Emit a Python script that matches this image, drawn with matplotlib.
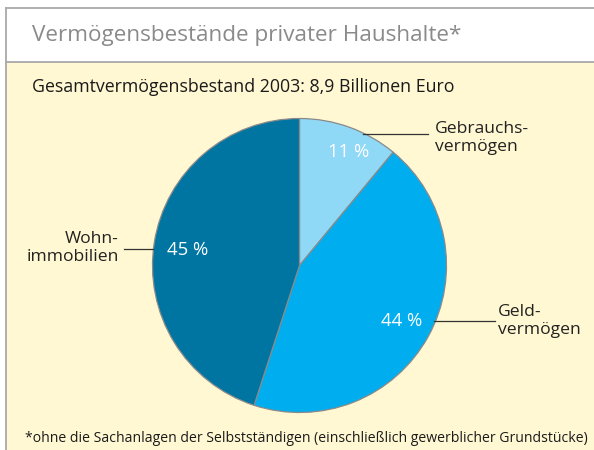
import matplotlib
matplotlib.use("Agg")
import matplotlib.pyplot as plt
from matplotlib.patches import Rectangle
from matplotlib.lines import Line2D

plt.rcParams['font.family'] = ['Open Sans', 'DejaVu Sans']

title = "Vermögensbestände privater Haushalte*"
subtitle = "Gesamtvermögensbestand 2003: 8,9 Billionen Euro"
footnote = "*ohne die Sachanlagen der Selbstständigen (einschließlich gewerblicher Grundstücke)"
categories = ["Gebrauchs-\nvermögen", "Geld-\nvermögen", "Wohn-\nimmobilien"]
values = [11, 44, 45]
pct_labels = ["11 %", "44 %", "45 %"]
colors = ["#8fd8f6", "#00aeef", "#0075a2"]

W, H = 594, 450
fig = plt.figure(figsize=(W / 100, H / 100), dpi=100)
fig.patch.set_facecolor("white")

# background frame
bg = fig.add_axes([0, 0, 1, 1])
bg.set_xlim(0, W)
bg.set_ylim(H, 0)
bg.axis("off")
bg.add_patch(Rectangle((6, 61.5), W, H, facecolor="#fff8d3", edgecolor="none"))
bg.add_line(Line2D([6, W], [8, 8], color="#a9a9a9", lw=1.3))
bg.add_line(Line2D([6, W], [61.5, 61.5], color="#a9a9a9", lw=1.3))
bg.add_line(Line2D([6, 6], [8, H], color="#a9a9a9", lw=1.3))

# pie
cx, cy, r = 299.5, 265.5, 147
ax = fig.add_axes([(cx - r) / W, 1 - (cy + r) / H, 2 * r / W, 2 * r / H])
wedges, _ = ax.pie(values, colors=colors, startangle=90, counterclock=False,
                   wedgeprops=dict(edgecolor="#8a8a8a", linewidth=0.9))
ax.set_xlim(-1, 1)
ax.set_ylim(-1, 1)
ax.set_aspect("equal")
ax.axis("off")

# overlay for text and leader lines
ov = fig.add_axes([0, 0, 1, 1])
ov.set_xlim(0, W)
ov.set_ylim(H, 0)
ov.axis("off")
ov.patch.set_alpha(0)

ov.text(32, 35, title, fontsize=16.2, color="#8a8a8a", va="center", ha="left")
ov.text(32, 87, subtitle, fontsize=12.8, color="#1a1a1a", va="center", ha="left")
ov.text(306, 438, footnote, fontsize=10.05, color="#1a1a1a", va="center", ha="center")

pct_pos = [(349, 152), (402, 321), (188, 250)]
for (x, y), t in zip(pct_pos, pct_labels):
    ov.text(x, y, t, fontsize=13.3, color="white", ha="center", va="center")

ov.add_line(Line2D([363, 428], [133.5, 133.5], color="#333333", lw=0.9))
ov.add_line(Line2D([434, 495], [321, 321], color="#333333", lw=0.9))
ov.add_line(Line2D([124, 153], [249, 249], color="#333333", lw=0.9))

ov.text(435, 138, categories[0], fontsize=12.6, color="#222222", ha="left", va="center", linespacing=1.15)
ov.text(498, 321, categories[1], fontsize=12.6, color="#222222", ha="left", va="center", linespacing=1.15)
ov.text(119, 248, categories[2], fontsize=12.6, color="#222222", ha="right", va="center", linespacing=1.15,
        multialignment="right")

fig.savefig("out.png", dpi=100)
